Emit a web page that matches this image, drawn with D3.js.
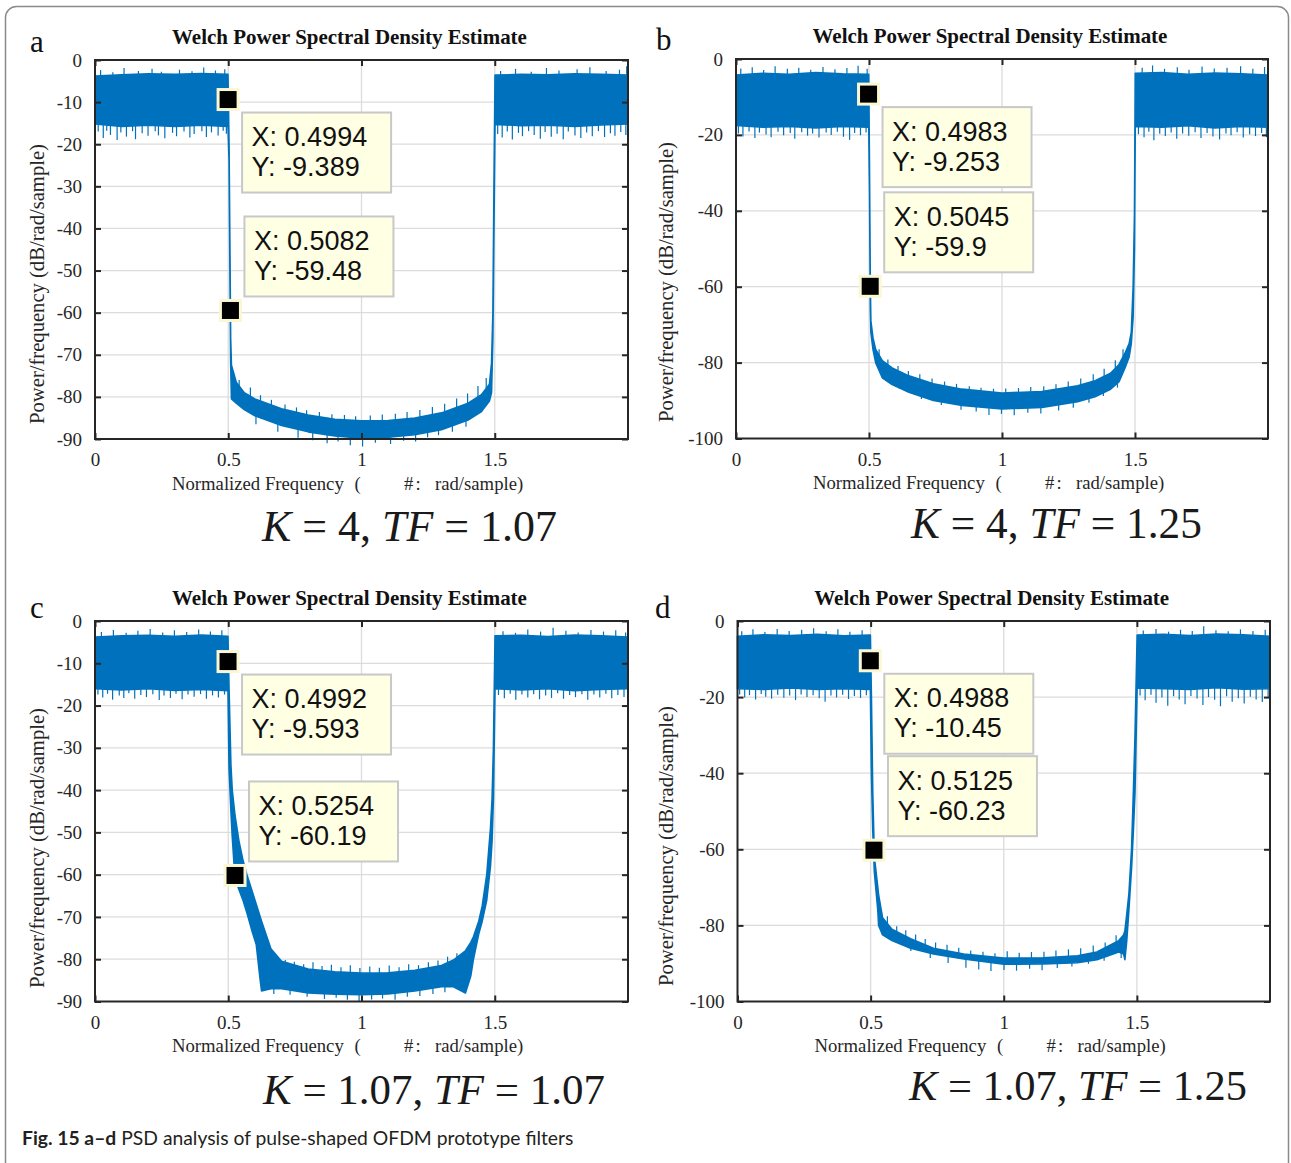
<!DOCTYPE html>
<html>
<head>
<meta charset="utf-8">
<script src="https://cdn.jsdelivr.net/npm/d3@7"></script>
<style>
  body { margin: 0; background: #fff; }
  svg { display: block; }
</style>
</head>
<body>
<svg id="fig" width="1291" height="1163"></svg>
<script>
// ---- data ----
const freqTicks = [0, 0.5, 1, 1.5]
const yTicks90 = [0, -10, -20, -30, -40, -50, -60, -70, -80, -90]
const yTicks100 = [0, -20, -40, -60, -80, -100]

const panelLetters = ["a", "b", "c", "d"]
const kValues = ["4", "4", "1.07", "1.07"]
const tfValues = ["1.07", "1.25", "1.07", "1.25"]

// (a) K = 4, TF = 1.07 : envelope of the PSD band (dB)
const aFreq  = [0, 0.1, 0.2, 0.3, 0.4, 0.499, 0.503, 0.507, 0.509, 0.512, 0.53, 0.56, 0.6, 0.7, 0.8, 0.9, 1.0, 1.1, 1.2, 1.3, 1.4, 1.45, 1.48, 1.488, 1.493, 1.497, 1.501, 1.6, 1.7, 1.8, 1.9, 2.0]
const aUpper = [-3.8, -3.5, -3.3, -3.4, -3.2, -3.4, -20, -50, -66, -72.5, -76.5, -79, -80.5, -82.8, -84.3, -85.3, -85.7, -85.6, -85, -83.8, -81.5, -79.5, -77, -72, -60, -30, -3.6, -3.4, -3.5, -3.3, -3.4, -3.6]
const aLower = [-15.2, -15.8, -15.5, -15.8, -15.5, -15.8, -24, -56, -72, -80.5, -81.5, -83, -84.5, -86.8, -88.3, -89.3, -89.8, -89.6, -89, -87.8, -85.5, -83.5, -81, -79, -66, -40, -15.3, -15.6, -15.5, -15.8, -15.4, -15.2]
// noise spikes [freq, dB]
const aSpikes = [
  [0.012, -17], [0.031, -18.5], [0.044, -16.8], [0.058, -17.8], [0.083, -19], [0.097, -17.2], [0.118, -18.2], [0.141, -16.9], [0.152, -18.8], [0.177, -17.4], [0.199, -18], [0.226, -16.9], [0.238, -17.9], [0.262, -18.6], [0.291, -17.3], [0.306, -18.1], [0.334, -17], [0.356, -18.4], [0.372, -17.6], [0.401, -16.9], [0.418, -18.3], [0.437, -17.2], [0.462, -17.9], [0.481, -16.8], [0.493, -17.5],
  [1.511, -17.6], [1.528, -18.4], [1.547, -17], [1.566, -18.9], [1.589, -17.3], [1.604, -18.1], [1.627, -16.9], [1.648, -17.8], [1.671, -18.7], [1.689, -17.1], [1.712, -18.2], [1.734, -17.5], [1.757, -18.8], [1.776, -17], [1.801, -17.9], [1.823, -18.5], [1.845, -17.2], [1.866, -18.1], [1.889, -16.9], [1.912, -18.3], [1.934, -17.4], [1.951, -18], [1.973, -17.1], [1.992, -17.8],
  [0.021, -2.4], [0.067, -2.9], [0.109, -1.9], [0.163, -2.6], [0.214, -2.1], [0.249, -2.8], [0.317, -2.3], [0.364, -2.7], [0.408, -1.8], [0.452, -2.5], [0.487, -2.2],
  [1.522, -2.6], [1.578, -2.1], [1.637, -2.8], [1.694, -1.9], [1.741, -2.5], [1.809, -2.2], [1.857, -1.7], [1.918, -2.6], [1.968, -2.3], [1.995, -1.5],
  [0.541, -76], [0.583, -77.8], [0.621, -79.6], [0.662, -80.7], [0.713, -81.8], [0.756, -82.5], [0.794, -83.2], [0.842, -83.6], [0.889, -84.1], [0.936, -84.3], [0.978, -84.6], [1.033, -84.4], [1.078, -84.2], [1.127, -84], [1.171, -83.6], [1.219, -83.1], [1.266, -82.4], [1.312, -81.6], [1.357, -80.4], [1.398, -79.2], [1.437, -77.4], [1.468, -75.5],
  [0.604, -86.5], [0.686, -88.3], [0.762, -89.7], [0.817, -90.3], [0.871, -91], [0.912, -90.6], [0.958, -91.5], [1.004, -91.8], [1.052, -90.9], [1.109, -91.2], [1.158, -90.4], [1.203, -90.6], [1.248, -89.6], [1.289, -89.1], [1.341, -88.3], [1.392, -87.1]
]
const aTips = [[0.4994, -9.389], [0.5082, -59.48]]

// (b) K = 4, TF = 1.25
const bFreq  = [0, 0.1, 0.2, 0.3, 0.4, 0.499, 0.502, 0.505, 0.507, 0.515, 0.525, 0.55, 0.587, 0.65, 0.742, 0.85, 1.0, 1.15, 1.284, 1.35, 1.408, 1.44, 1.462, 1.478, 1.486, 1.493, 1.498, 1.501, 1.6, 1.7, 1.8, 1.9, 2.0]
const bUpper = [-4.2, -3.8, -4, -3.6, -3.9, -4, -30, -60, -69, -73.5, -76.5, -79.5, -81.4, -83.5, -85.6, -87, -88, -87.6, -86.1, -84.8, -82.8, -80.5, -77.6, -75, -72, -60, -40.9, -3.8, -3.6, -4, -3.7, -3.9, -4.2]
const bLower = [-17.5, -18, -17.8, -18.2, -17.8, -18, -35, -66, -72, -76.5, -80, -84, -85.8, -87.8, -90, -91.3, -92.2, -91.8, -90.3, -89, -87, -85, -81.5, -78.5, -75, -68, -50, -17.8, -18, -17.6, -18.2, -17.8, -18]
const bSpikes = [
  [0.009, -19.6], [0.026, -20.4], [0.049, -19.1], [0.071, -20.8], [0.088, -19.4], [0.113, -19.9], [0.132, -20.6], [0.158, -19.2], [0.179, -20.1], [0.204, -19.5], [0.221, -21], [0.247, -19.3], [0.269, -20.2], [0.288, -19.6], [0.312, -20.7], [0.339, -19.4], [0.358, -20], [0.381, -19.2], [0.404, -20.5], [0.427, -21.3], [0.446, -19.5], [0.468, -20.1], [0.489, -19.4],
  [1.513, -19.8], [1.534, -20.6], [1.552, -19.2], [1.571, -21.4], [1.593, -19.7], [1.614, -20.3], [1.636, -19.4], [1.657, -21], [1.679, -19.6], [1.702, -20.2], [1.726, -19.3], [1.748, -20.8], [1.771, -19.5], [1.793, -20.4], [1.818, -21.2], [1.842, -19.6], [1.861, -20.1], [1.884, -19.3], [1.907, -20.7], [1.931, -19.8], [1.953, -20.3], [1.976, -19.5], [1.994, -20.6],
  [0.018, -2.5], [0.061, -2.2], [0.104, -2.9], [0.147, -1.9], [0.193, -2.6], [0.236, -2.3], [0.281, -2.8], [0.327, -2.1], [0.372, -2.7], [0.417, -2.4], [0.459, -1.8], [0.493, -2.6],
  [1.527, -2.3], [1.566, -1.7], [1.611, -2.6], [1.659, -2.2], [1.703, -2.8], [1.752, -2], [1.798, -2.5], [1.846, -2.3], [1.897, -1.9], [1.943, -2.6], [1.987, -2.1],
  [0.538, -76.5], [0.571, -79.2], [0.609, -80.9], [0.648, -82.2], [0.691, -83.1], [0.737, -84.2], [0.784, -85], [0.829, -85.6], [0.877, -86.2], [0.921, -86.6], [0.968, -86.9], [1.014, -86.8], [1.062, -86.7], [1.108, -86.4], [1.157, -86.2], [1.203, -85.7], [1.249, -85], [1.296, -84.2], [1.343, -83.1], [1.384, -81.6], [1.426, -79.4], [1.455, -76.5],
  [0.613, -86.8], [0.697, -89.6], [0.772, -91.2], [0.846, -92.4], [0.903, -92.9], [0.951, -93.8], [0.998, -93.5], [1.046, -93.9], [1.097, -93.2], [1.146, -93.4], [1.213, -92.6], [1.268, -91.9], [1.327, -90.6], [1.381, -88.8], [1.434, -86.6]
]
const bTips = [[0.4983, -9.253], [0.5045, -59.9]]

// (c) K = 1.07, TF = 1.07
const cFreq  = [0, 0.1, 0.2, 0.3, 0.4, 0.499, 0.503, 0.51, 0.515, 0.5254, 0.54, 0.555, 0.57, 0.59, 0.605, 0.62, 0.625, 0.66, 0.7, 0.8, 0.9, 1.0, 1.1, 1.2, 1.3, 1.345, 1.39, 1.41, 1.42, 1.44, 1.453, 1.47, 1.484, 1.49, 1.495, 1.501, 1.6, 1.7, 1.8, 1.9, 2.0]
const cUpper = [-3.8, -3.5, -3.4, -3.6, -3.3, -3.6, -16, -34, -40, -46, -52, -56.5, -60, -64, -67, -70, -71, -77.5, -80.5, -82.3, -83, -83.3, -83.2, -82.6, -81.5, -80.2, -78, -76, -74.7, -71, -67.4, -60, -49, -42, -30, -3.5, -3.4, -3.7, -3.3, -3.5, -3.8]
const cLower = [-16, -16.3, -16, -16.4, -16.2, -16.5, -35, -45, -51, -61, -63.5, -66, -69, -73.5, -76.5, -85, -87.5, -87, -87, -88, -88.3, -88.4, -88.2, -87.5, -86.5, -86.5, -88, -84, -80, -74, -71, -66, -58, -52, -42, -16, -16.3, -16, -16.5, -16.2, -16]
const cSpikes = [
  [0.011, -17.4], [0.029, -18.1], [0.047, -17.2], [0.066, -18.6], [0.091, -17.6], [0.108, -18.2], [0.127, -17.1], [0.149, -18.4], [0.172, -17.5], [0.193, -18], [0.217, -17.3], [0.241, -18.7], [0.259, -17.6], [0.283, -18.2], [0.304, -17.2], [0.327, -18.5], [0.349, -17.4], [0.372, -17.9], [0.396, -17.3], [0.418, -18.4], [0.441, -17.6], [0.463, -18.1], [0.486, -17.4],
  [1.514, -17.5], [1.536, -18.3], [1.558, -17.2], [1.579, -18.6], [1.602, -17.4], [1.624, -18.1], [1.646, -17.3], [1.668, -18.5], [1.691, -17.6], [1.713, -18.2], [1.736, -17.1], [1.758, -18.4], [1.781, -17.5], [1.803, -18], [1.827, -17.3], [1.849, -18.6], [1.872, -17.4], [1.894, -18.1], [1.917, -17.2], [1.939, -18.3], [1.962, -17.5], [1.985, -18],
  [0.024, -2.6], [0.069, -2.1], [0.117, -2.8], [0.161, -2.3], [0.207, -1.9], [0.254, -2.7], [0.298, -2.2], [0.344, -2.6], [0.389, -2], [0.433, -2.5], [0.476, -2.2],
  [1.531, -2.4], [1.578, -2.8], [1.624, -2], [1.672, -2.5], [1.719, -1.6], [1.767, -2.3], [1.813, -2.7], [1.861, -2.1], [1.908, -2.5], [1.954, -2.2], [1.991, -2.7],
  [0.683, -79.4], [0.714, -80.2], [0.748, -80.6], [0.783, -81.2], [0.818, -80.7], [0.852, -81.6], [0.887, -81.3], [0.923, -81.9], [0.958, -81.4], [0.994, -82.1], [1.031, -81.7], [1.067, -82], [1.104, -81.5], [1.141, -81.9], [1.177, -81.2], [1.214, -81.4], [1.251, -80.7], [1.287, -80.3], [1.323, -79.4], [1.358, -78.6],
  [0.671, -88.2], [0.732, -88.4], [0.796, -88.9], [0.861, -89.4], [0.905, -89.1], [0.947, -89.6], [0.991, -89.9], [1.038, -89.5], [1.079, -89.3], [1.126, -89.6], [1.172, -88.9], [1.219, -88.7], [1.268, -88.2], [1.313, -87.8]
]
const cTips = [[0.4992, -9.593], [0.5254, -60.19]]

// (d) K = 1.07, TF = 1.25
const dFreq  = [0, 0.1, 0.2, 0.3, 0.4, 0.499, 0.503, 0.508, 0.514, 0.527, 0.53, 0.545, 0.58, 0.65, 0.736, 0.85, 1.0, 1.15, 1.277, 1.35, 1.432, 1.45, 1.455, 1.462, 1.47, 1.48, 1.487, 1.493, 1.501, 1.6, 1.7, 1.8, 1.9, 2.0]
const dUpper = [-4, -3.6, -3.8, -3.5, -3.9, -3.7, -20, -45, -62, -70, -72, -78, -81, -83.5, -86, -87.5, -88.6, -88.5, -88, -87, -84, -82.5, -81.4, -77, -71.8, -60, -44.6, -30, -3.7, -3.5, -3.8, -3.4, -3.6, -4]
const dLower = [-17.8, -18, -17.6, -18, -17.8, -18, -40, -55, -66, -76, -80, -82.5, -84, -86, -87.5, -88.8, -90.2, -90.1, -89.8, -89, -87, -87.5, -89, -84, -76, -65, -55, -45, -17.6, -17.8, -18, -17.5, -17.9, -17.8]
const dSpikes = [
  [0.008, -19.3], [0.027, -20.1], [0.045, -19.5], [0.068, -20.6], [0.089, -19.2], [0.106, -19.9], [0.128, -20.4], [0.151, -19.4], [0.174, -20.2], [0.196, -19.6], [0.218, -20.8], [0.239, -19.3], [0.261, -20], [0.284, -19.5], [0.307, -20.3], [0.329, -21.2], [0.351, -19.6], [0.372, -20.1], [0.395, -19.4], [0.417, -20.5], [0.439, -19.7], [0.462, -20.2], [0.484, -19.5],
  [1.512, -19.6], [1.531, -20.8], [1.553, -19.4], [1.572, -21.5], [1.594, -20.1], [1.616, -22.3], [1.638, -19.8], [1.659, -20.6], [1.681, -21.9], [1.703, -19.7], [1.726, -20.4], [1.748, -22.1], [1.769, -20], [1.792, -20.7], [1.814, -22.4], [1.837, -19.8], [1.858, -21.2], [1.881, -20.3], [1.903, -21.7], [1.926, -19.9], [1.948, -20.6], [1.971, -21.3], [1.993, -20.2],
  [0.016, -2.7], [0.058, -2.2], [0.103, -2.9], [0.149, -2.1], [0.194, -2.6], [0.241, -2.3], [0.286, -1.9], [0.333, -2.7], [0.377, -2.2], [0.422, -2.8], [0.468, -2.4],
  [1.524, -2.5], [1.572, -2.1], [1.619, -2.8], [1.664, -2.3], [1.708, -2.6], [1.751, -1.4], [1.797, -2.4], [1.843, -2.7], [1.889, -2.2], [1.936, -2.6], [1.982, -2.3],
  [0.563, -77.6], [0.598, -80.2], [0.632, -81.3], [0.669, -82.4], [0.705, -83.6], [0.744, -84.5], [0.787, -85.1], [0.831, -85.9], [0.876, -86.6], [0.922, -86.9], [0.967, -87.3], [1.013, -86.8], [1.058, -87.2], [1.104, -87], [1.151, -86.9], [1.196, -86.6], [1.243, -86.3], [1.289, -86], [1.336, -85.3], [1.381, -84.5], [1.422, -82.6],
  [0.651, -86.7], [0.724, -88.6], [0.791, -89.9], [0.858, -91.1], [0.906, -91.6], [0.952, -92], [1.001, -91.7], [1.048, -91.9], [1.097, -91.4], [1.144, -91.8], [1.201, -91.2], [1.256, -90.8], [1.318, -90.1], [1.377, -89.3], [1.441, -88.6]
]
const dTips = [[0.4988, -10.45], [0.5125, -60.23]]

const titleText = "Welch Power Spectral Density Estimate"
const yLabelText = "Power/frequency (dB/rad/sample)"
const figCaptionBold = "Fig. 15 a\u2013d"
const figCaptionText = " PSD analysis of pulse-shaped OFDM prototype filters"

// ---- layout (pixels) ----
const layout = [
  {left: 95,    right: 628,  top: 60,  bottom: 439,    letter: [30, 52],   ylab: [37, 284],    formula: [262, 541, 295]},
  {left: 736,   right: 1268, top: 59,  bottom: 438.5,  letter: [656, 50],  ylab: [665.5, 282], formula: [911, 537.5, 291]},
  {left: 95,    right: 628,  top: 621, bottom: 1001.5, letter: [30, 618],  ylab: [37, 848],    formula: [263, 1104, 342]},
  {left: 737.5, right: 1270, top: 621, bottom: 1001.5, letter: [655, 618], ylab: [665.5, 846], formula: [909, 1100, 338]}
]

const panels = [
  {yMin: -90,  yTicks: yTicks90,  freq: aFreq, upper: aUpper, lower: aLower, spikes: aSpikes, tips: aTips},
  {yMin: -100, yTicks: yTicks100, freq: bFreq, upper: bUpper, lower: bLower, spikes: bSpikes, tips: bTips},
  {yMin: -90,  yTicks: yTicks90,  freq: cFreq, upper: cUpper, lower: cLower, spikes: cSpikes, tips: cTips},
  {yMin: -100, yTicks: yTicks100, freq: dFreq, upper: dUpper, lower: dLower, spikes: dSpikes, tips: dTips}
]

const blue = "#0072bd"
const serif = "'Liberation Serif', 'Times New Roman', serif"
const sans = "'Liberation Sans', Arial, sans-serif"

const svg = d3.select("#fig")

// outer frame of the figure
svg.append("rect")
  .attr("x", 5.5).attr("y", 6.5)
  .attr("width", 1283).attr("height", 1250)
  .attr("rx", 11)
  .attr("fill", "none")
  .attr("stroke", "#8a8a8a")
  .attr("stroke-width", 1.5)

// shrink/grow font so the text spans a given width
function fit(sel, w) {
  var len = sel.node().getComputedTextLength()
  var fs = parseFloat(sel.style("font-size"))
  sel.style("font-size", (fs * w / len) + "px")
}

function drawPanel(p, L, idx) {
  var g = svg.append("g")
  var x = d3.scaleLinear().domain([0, 2]).range([L.left, L.right])
  var y = d3.scaleLinear().domain([p.yMin, 0]).range([L.bottom, L.top])

  // grid
  g.append("g").selectAll("line").data(freqTicks.slice(1)).join("line")
    .attr("x1", d => x(d)).attr("x2", d => x(d))
    .attr("y1", L.top).attr("y2", L.bottom)
    .attr("stroke", "#dcdcdc").attr("stroke-width", 1.3)
  g.append("g").selectAll("line").data(p.yTicks.slice(1, -1)).join("line")
    .attr("x1", L.left).attr("x2", L.right)
    .attr("y1", d => y(d)).attr("y2", d => y(d))
    .attr("stroke", "#dcdcdc").attr("stroke-width", 1.3)

  // PSD band
  var idxs = d3.range(p.freq.length)
  var area = d3.area()
    .x(i => x(p.freq[i]))
    .y0(i => y(p.lower[i]))
    .y1(i => y(p.upper[i]))
  g.append("path")
    .attr("d", area(idxs))
    .attr("fill", blue)
    .attr("stroke", blue)
    .attr("stroke-width", 1.6)
    .attr("stroke-linejoin", "round")

  // noise spikes sticking out of the band
  var upEnv = d3.scaleLinear().domain(p.freq).range(p.upper)
  var loEnv = d3.scaleLinear().domain(p.freq).range(p.lower)
  g.append("g").selectAll("line").data(p.spikes).join("line")
    .attr("x1", d => x(d[0])).attr("x2", d => x(d[0]))
    .attr("y1", d => d[1] > upEnv(d[0]) ? y(upEnv(d[0])) : y(loEnv(d[0])))
    .attr("y2", d => y(d[1]))
    .attr("stroke", blue).attr("stroke-width", 1.2)

  // box
  g.append("rect")
    .attr("x", L.left).attr("y", L.top)
    .attr("width", L.right - L.left).attr("height", L.bottom - L.top)
    .attr("fill", "none").attr("stroke", "#262626").attr("stroke-width", 2)

  // axes with inward ticks
  var fmt = d => String(d)
  var ax = g.append("g").attr("transform", "translate(0," + L.bottom + ")")
    .call(d3.axisBottom(x).tickValues(freqTicks).tickFormat(fmt).tickSizeInner(-6).tickSizeOuter(0).tickPadding(21))
  var ay = g.append("g").attr("transform", "translate(" + L.left + ",0)")
    .call(d3.axisLeft(y).tickValues(p.yTicks).tickFormat(fmt).tickSizeInner(-6).tickSizeOuter(0).tickPadding(13))
  var at = g.append("g").attr("transform", "translate(0," + L.top + ")")
    .call(d3.axisTop(x).tickValues(freqTicks).tickFormat("").tickSizeInner(-6).tickSizeOuter(0))
  var ar = g.append("g").attr("transform", "translate(" + L.right + ",0)")
    .call(d3.axisRight(y).tickValues(p.yTicks).tickFormat("").tickSizeInner(-6).tickSizeOuter(0))
  ;[ax, ay, at, ar].forEach(a => {
    a.attr("font-family", null).attr("font-size", null)
    a.select(".domain").remove()
    a.selectAll(".tick line").attr("stroke", "#262626").attr("stroke-width", 2)
    a.selectAll("text")
      .style("font-family", serif).style("font-size", "19px").attr("fill", "#262626")
  })
  ax.selectAll(".tick text").attr("dy", "0.32em")

  // title
  var cx = (L.left + L.right) / 2 - 12
  var title = g.append("text")
    .attr("x", cx).attr("y", L.top - 16.5)
    .attr("text-anchor", "middle")
    .style("font-family", serif).style("font-weight", "bold").style("font-size", "20px")
    .attr("fill", "#111")
    .text(titleText)
  fit(title, 355)

  // x label (the pi glyph is missing in the original, leaving a gap)
  var xl = g.append("text")
    .attr("y", L.bottom + 50.5)
    .style("font-family", serif).style("font-size", "18.7px").attr("fill", "#262626")
  var xlParts = [["Normalized Frequency", 77], ["(", 259.5], ["#", 309], [":", 320.5], ["rad/sample)", 340]]
  xlParts.forEach(d => xl.append("tspan").attr("x", L.left + d[1]).text(d[0]))

  // y label
  var yl = g.append("text")
    .attr("transform", "translate(" + L.ylab[0] + "," + L.ylab[1] + ") rotate(-90)")
    .attr("text-anchor", "middle").attr("dominant-baseline", "central")
    .style("font-family", serif).style("font-size", "19px").attr("fill", "#262626")
    .text(yLabelText)
  fit(yl, 280)

  // panel letter
  g.append("text")
    .attr("x", L.letter[0]).attr("y", L.letter[1])
    .style("font-family", serif).style("font-size", "31px").attr("fill", "#111")
    .text(panelLetters[idx])

  // K / TF formula
  var fm = g.append("text")
    .attr("x", L.formula[0]).attr("y", L.formula[1])
    .attr("xml:space", "preserve")
    .style("font-family", serif).style("font-size", "36px").attr("fill", "#1a1a1a")
  fm.append("tspan").style("font-style", "italic").text("K")
  fm.append("tspan").text(" = " + kValues[idx] + ", ")
  fm.append("tspan").style("font-style", "italic").text("TF")
  fm.append("tspan").text(" = " + tfValues[idx])
  fit(fm, L.formula[2])

  // data tips
  var fx = d3.format(".4f"), fy = d3.format(".4~g")
  p.tips.forEach((t, k) => {
    var mx = x(t[0]), my = y(t[1])
    var bx = mx + 14
    var by = k === 0 ? my + 13 : my - 14 - 80
    g.append("rect")
      .attr("x", bx).attr("y", by).attr("width", 149).attr("height", 80)
      .attr("fill", "#ffffe3").attr("stroke", "#c8c8c8").attr("stroke-width", 2)
    g.append("text")
      .attr("x", bx + 9.5).attr("y", by + 33.5)
      .style("font-family", sans).style("font-size", "27px").attr("fill", "#111")
      .text("X: " + fx(t[0]))
    g.append("text")
      .attr("x", bx + 9.5).attr("y", by + 63.5)
      .style("font-family", sans).style("font-size", "27px").attr("fill", "#111")
      .text("Y: " + fy(t[1]).replace("\u2212", "-"))
    g.append("rect")
      .attr("x", mx - 11.5).attr("y", my - 11.5).attr("width", 23).attr("height", 23)
      .attr("fill", "#fbf7d3")
    g.append("rect")
      .attr("x", mx - 8.5).attr("y", my - 8.5).attr("width", 17).attr("height", 17)
      .attr("fill", "#000")
  })
}

panels.forEach((p, i) => drawPanel(p, layout[i], i))

// figure caption
var cap = svg.append("text")
  .attr("x", 22).attr("y", 1145)
  .style("font-family", "Lato, 'Open Sans', sans-serif").style("font-size", "19px")
  .attr("fill", "#231f20")
cap.append("tspan").style("font-weight", "bold").text(figCaptionBold)
cap.append("tspan").text(figCaptionText)
fit(cap, 552)
</script>
</body>
</html>
